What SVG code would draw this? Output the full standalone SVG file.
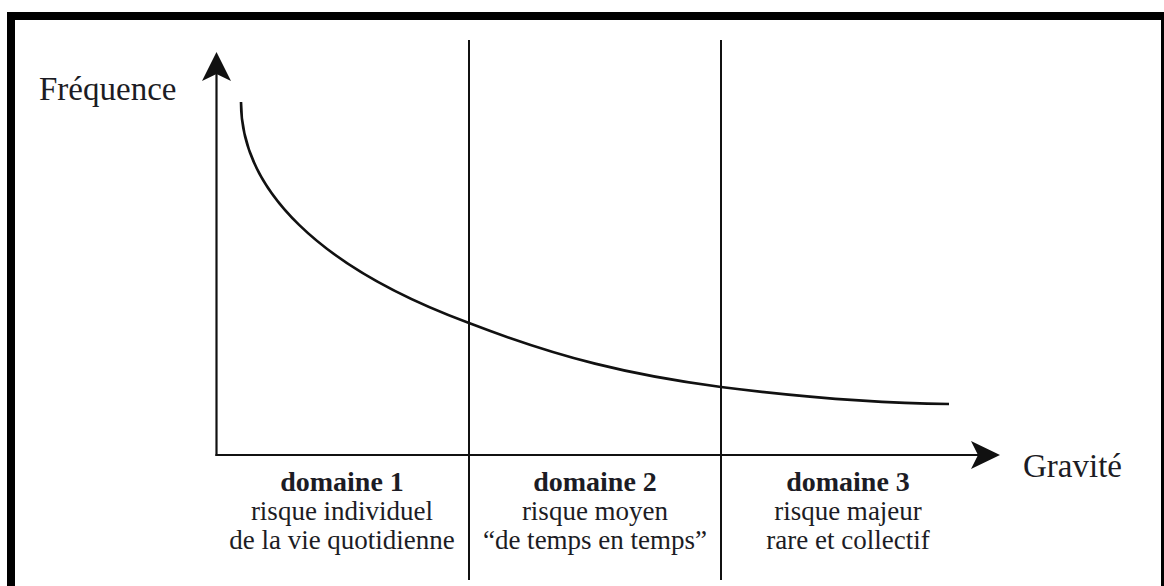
<svg xmlns="http://www.w3.org/2000/svg" width="1164" height="586" viewBox="0 0 1164 586">
  <style>
    .frame { fill: none; stroke: #000; stroke-width: 8; }
    .axis { stroke: #111; stroke-width: 2.2; fill: none; }
    .divider { stroke: #111; stroke-width: 2; fill: none; }
    .curve { stroke: #111; stroke-width: 2.6; fill: none; stroke-linecap: butt; }
    .head { fill: #111; }
    text { font-family: "Liberation Serif", "Times New Roman", serif; fill: #1c1c24; }
    .axis-label { font-size: 33px; }
    .dom-title { font-size: 28px; font-weight: bold; text-anchor: middle; }
    .dom-text { font-size: 27px; text-anchor: middle; }
  </style>

  <rect width="1164" height="586" fill="#fff"/>

  <!-- outer frame (right and bottom edges run past the canvas) -->
  <rect class="frame" x="11" y="16" width="1154" height="620"/>

  <!-- domain dividers -->
  <g id="dividers">
    <line class="divider" x1="469" y1="40" x2="469" y2="580"/>
    <line class="divider" x1="721" y1="40" x2="721" y2="580"/>
  </g>

  <!-- axes -->
  <g id="connectors">
    <line class="axis" x1="216.5" y1="456" x2="216.5" y2="70"/>
    <path class="head" d="M216.5,52 L231,81 L216.5,74 L202,81 Z"/>
    <line class="axis" x1="215.5" y1="455" x2="985" y2="455"/>
    <path class="head" d="M1000,455 L971,469 L978,455 L971,441 Z"/>
  </g>

  <!-- frequency / severity curve -->
  <g id="curve">
    <path class="curve" d="M241,102 C241,190 320,268 469,323 C560,358 630,375 721,387 C800,397 870,403 949,404"/>
  </g>

  <!-- axis labels -->
  <g id="label-frequence">
    <text class="axis-label" x="39" y="100">Fréquence</text>
  </g>
  <g id="label-gravite">
    <text class="axis-label" x="1023" y="477">Gravité</text>
  </g>

  <!-- domain captions -->
  <g id="domaine-1">
    <text class="dom-title" x="342" y="491">domaine 1</text>
    <text class="dom-text" x="342" y="520">risque individuel</text>
    <text class="dom-text" x="342" y="549">de la vie quotidienne</text>
  </g>
  <g id="domaine-2">
    <text class="dom-title" x="595" y="491">domaine 2</text>
    <text class="dom-text" x="595" y="520">risque moyen</text>
    <text class="dom-text" x="595" y="549">“de temps en temps”</text>
  </g>
  <g id="domaine-3">
    <text class="dom-title" x="848" y="491">domaine 3</text>
    <text class="dom-text" x="848" y="520">risque majeur</text>
    <text class="dom-text" x="848" y="549">rare et collectif</text>
  </g>
</svg>
